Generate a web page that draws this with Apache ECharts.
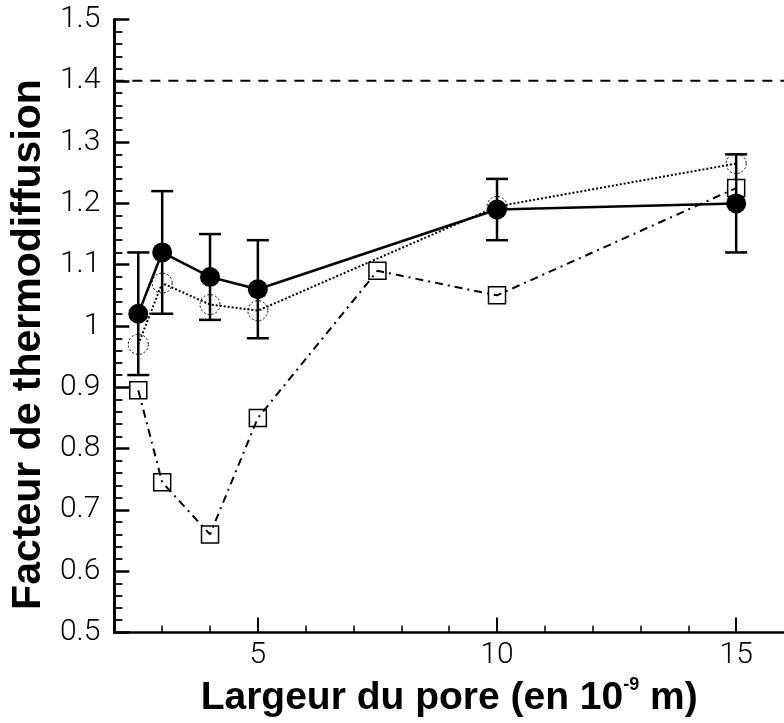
<!DOCTYPE html>
<html>
<head>
<meta charset="utf-8">
<script src="https://cdn.jsdelivr.net/npm/echarts@6/dist/echarts.min.js"></script>
<style>
html,body{margin:0;padding:0;background:#fff;}
#chart{width:784px;height:723px;}
</style>
</head>
<body>
<div id="chart"></div>
<script>
// ---- data ----
const xFilled = [2.5, 3, 4, 5, 10, 15];
const yFilled = [1.02, 1.12, 1.08, 1.06, 1.19, 1.20];
const errLow  = [0.92, 1.02, 1.01, 0.98, 1.14, 1.12];
const errHigh = [1.12, 1.22, 1.15, 1.14, 1.24, 1.28];
const xOpen = [2.5, 3, 4, 5, 10, 15];
const yOpen = [0.97, 1.07, 1.035, 1.025, 1.195, 1.265];
const xSquare = [2.5, 3, 4, 5, 7.5, 10, 15];
const ySquare = [0.895, 0.745, 0.66, 0.85, 1.09, 1.05, 1.225];
const refX = [2, 16];
const refY = [1.4, 1.4];
const xLabelValues = [5, 10, 15];
const xMinorValues = [3, 4, 6, 7, 8, 9, 11, 12, 13, 14];

const zip = (a, b) => a.map((v, i) => [v, b[i]]);
const tickFont = 'Roboto, "Liberation Sans", sans-serif';

function renderErr(params, api) {
  const x = api.value(0), lo = api.value(1), hi = api.value(2);
  const pLo = api.coord([x, lo]), pHi = api.coord([x, hi]);
  const hw = 11;
  const st = {stroke: '#000', lineWidth: 2.5};
  return {type: 'group', children: [
    {type: 'line', shape: {x1: pLo[0], y1: pLo[1], x2: pHi[0], y2: pHi[1]}, style: st},
    {type: 'line', shape: {x1: pLo[0] - hw, y1: pLo[1], x2: pLo[0] + hw, y2: pLo[1]}, style: st},
    {type: 'line', shape: {x1: pHi[0] - hw, y1: pHi[1], x2: pHi[0] + hw, y2: pHi[1]}, style: st}
  ]};
}

const chart = echarts.init(document.getElementById('chart'), null, {renderer: 'canvas'});
chart.setOption({
  animation: false,
  backgroundColor: '#fff',
  grid: {left: 114, top: 19.5, right: -6, bottom: 86.3, containLabel: false},
  xAxis: [{
    type: 'value', min: 2, max: 16, interval: 1, position: 'bottom',
    axisLine: {show: true, onZero: false, lineStyle: {color: '#000', width: 2.5}},
    axisTick: {show: true, inside: true, length: 15, customValues: xLabelValues, lineStyle: {color: '#000', width: 2}},
    axisLabel: {show: true, customValues: xLabelValues, margin: 8, fontFamily: tickFont, fontWeight: 300, fontSize: 30, color: '#000'},
    splitLine: {show: false},
    name: '{a|Largeur du pore (en 10}{s|-9}{a| m)}',
    nameLocation: 'middle', nameGap: 44,
    nameTextStyle: {rich: {
      a: {fontFamily: 'Liberation Sans', fontWeight: 'bold', fontSize: 39, color: '#000', lineHeight: 44},
      s: {fontFamily: 'Liberation Sans', fontWeight: 'bold', fontSize: 18, color: '#000', lineHeight: 20, verticalAlign: 'top'}
    }}
  }, {
    type: 'value', min: 2, max: 16, interval: 1, position: 'bottom', gridIndex: 0,
    axisLine: {show: false, onZero: false},
    axisTick: {show: true, inside: true, length: 7, customValues: xMinorValues, lineStyle: {color: '#000', width: 1.5}},
    axisLabel: {show: false},
    splitLine: {show: false}
  }],
  yAxis: {
    type: 'value', min: 0.5, max: 1.5, interval: 0.1,
    axisLine: {show: true, onZero: false, lineStyle: {color: '#000', width: 3}},
    axisTick: {show: true, inside: true, length: 15, lineStyle: {color: '#000', width: 2.5}},
    minorTick: {show: true, splitNumber: 5, length: 8, lineStyle: {color: '#000', width: 1.8}},
    axisLabel: {margin: 14, fontFamily: tickFont, fontWeight: 300, fontSize: 30, color: '#000'},
    splitLine: {show: false},
    minorSplitLine: {show: false},
    name: 'Facteur de thermodiffusion',
    nameLocation: 'middle', nameGap: 62,
    nameTextStyle: {fontFamily: 'Liberation Sans', fontWeight: 'bold', fontSize: 41, color: '#000', padding: [0, 37, 0, 0]}
  },
  series: [
    {
      type: 'line', data: zip(refX, refY), symbol: 'none',
      lineStyle: {color: '#000', width: 2, type: [10, 8]}, z: 1
    },
    {
      type: 'line', data: zip(xSquare, ySquare), symbol: 'rect', symbolSize: 17,
      showAllSymbol: true,
      itemStyle: {color: 'rgba(255,255,255,0)', borderColor: '#000', borderWidth: 1.5},
      lineStyle: {color: '#000', width: 2, type: [8, 5, 2, 5]}, z: 2
    },
    {
      type: 'line', data: zip(xOpen, yOpen), symbol: 'circle', symbolSize: 20,
      showAllSymbol: true,
      itemStyle: {color: 'rgba(255,255,255,0)', borderColor: '#000', borderWidth: 1, borderType: [2, 2]},
      lineStyle: {color: '#000', width: 2, type: [2, 2]}, z: 3
    },
    {
      type: 'custom', renderItem: renderErr,
      data: xFilled.map((x, i) => [x, errLow[i], errHigh[i]]),
      encode: {x: 0, y: [1, 2]}, z: 4
    },
    {
      type: 'line', data: zip(xFilled, yFilled), symbol: 'circle', symbolSize: 20,
      showAllSymbol: true,
      itemStyle: {color: '#000', borderColor: '#000', borderWidth: 0},
      lineStyle: {color: '#000', width: 2.5, type: 'solid'}, z: 5
    }
  ]
});
</script>
</body>
</html>
